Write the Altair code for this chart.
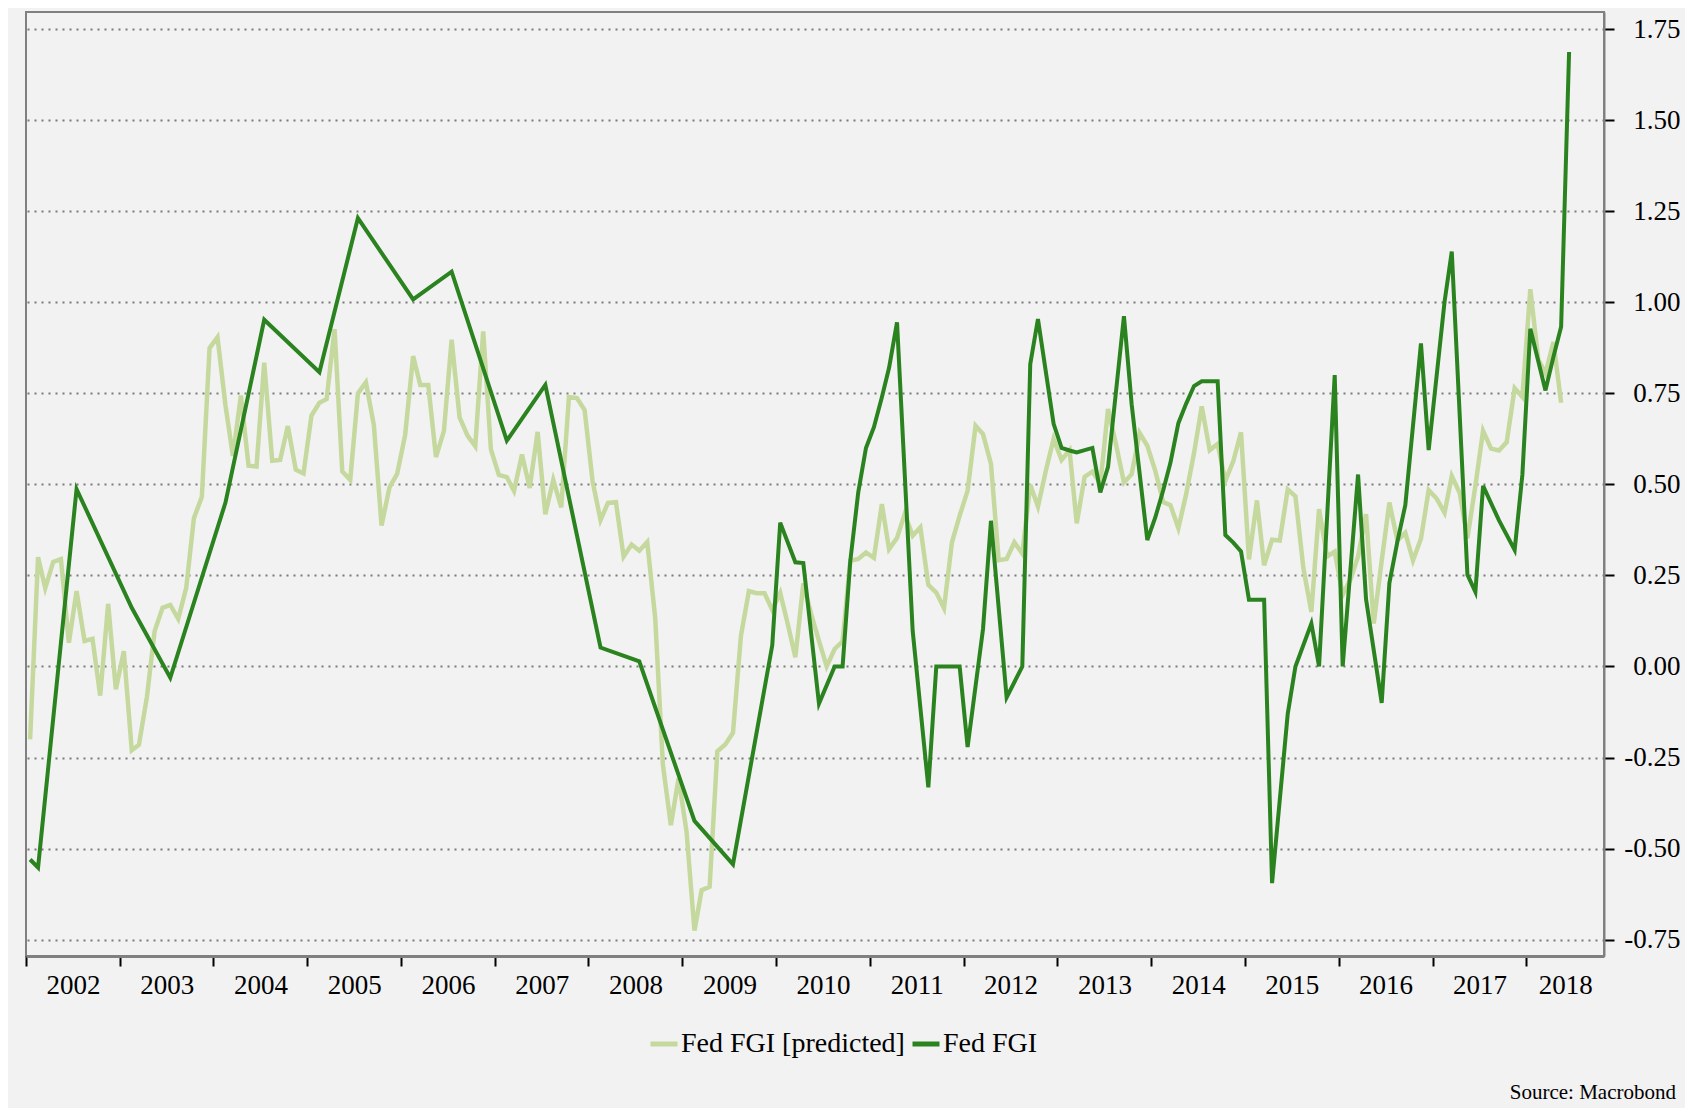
import altair as alt
import pandas as pd

# Fed FGI [predicted] - monthly, Jan 2002 .. May 2018
pred_values = [
    -0.20, 0.30, 0.215, 0.287, 0.295, 0.065, 0.207, 0.07, 0.076, -0.08, 0.172, -0.063,
    0.042, -0.23, -0.215, -0.084, 0.097, 0.161, 0.169, 0.131, 0.215, 0.407, 0.466, 0.874,
    0.904, 0.717, 0.578, 0.744, 0.551, 0.549, 0.834, 0.565, 0.567, 0.66, 0.54, 0.53,
    0.689, 0.724, 0.734, 0.926, 0.536, 0.512, 0.75, 0.78, 0.663, 0.387, 0.492, 0.529,
    0.636, 0.852, 0.773, 0.773, 0.575, 0.647, 0.897, 0.684, 0.634, 0.605, 0.92, 0.596,
    0.526, 0.52, 0.482, 0.582, 0.49, 0.644, 0.418, 0.512, 0.437, 0.74, 0.737, 0.704,
    0.509, 0.402, 0.449, 0.451, 0.302, 0.335, 0.318, 0.342, 0.133, -0.27, -0.436, -0.307,
    -0.453, -0.725, -0.614, -0.605, -0.233, -0.214, -0.182, 0.084, 0.207, 0.201, 0.201, 0.155,
    0.202, 0.112, 0.025, 0.228, 0.145, 0.07, 0.0, 0.048, 0.069, 0.29, 0.295, 0.313,
    0.298, 0.446, 0.322, 0.353, 0.419, 0.359, 0.382, 0.224, 0.203, 0.16, 0.341, 0.414,
    0.483, 0.661, 0.638, 0.556, 0.292, 0.295, 0.341, 0.31, 0.499, 0.439, 0.538, 0.625,
    0.567, 0.594, 0.393, 0.521, 0.535, 0.502, 0.707, 0.61, 0.505, 0.528, 0.641, 0.606,
    0.537, 0.451, 0.443, 0.38, 0.472, 0.586, 0.714, 0.594, 0.611, 0.51, 0.564, 0.643,
    0.294, 0.456, 0.278, 0.348, 0.346, 0.486, 0.467, 0.27, 0.15, 0.432, 0.302, 0.315,
    0.197, 0.24, 0.302, 0.418, 0.118, 0.29, 0.45, 0.346, 0.367, 0.291, 0.351, 0.484,
    0.461, 0.422, 0.523, 0.476, 0.352, 0.496, 0.647, 0.598, 0.593, 0.616, 0.764, 0.74,
    1.036, 0.843, 0.805, 0.891, 0.724,
]

# Fed FGI - observed months only (line joins the gaps)
fgi_months = [
    "2002-01", "2002-02", "2002-07", "2003-02", "2003-07", "2004-02", "2004-07",
    "2005-02", "2005-07", "2006-02", "2006-07", "2007-02", "2007-07", "2008-02",
    "2008-07", "2009-02", "2009-07", "2009-12", "2010-01", "2010-03", "2010-04",
    "2010-06", "2010-08", "2010-09", "2010-10", "2010-11", "2010-12", "2011-01",
    "2011-02", "2011-03", "2011-04", "2011-06", "2011-08", "2011-09", "2011-12",
    "2012-01", "2012-03", "2012-04", "2012-06", "2012-08", "2012-09", "2012-10",
    "2012-12", "2013-01", "2013-02", "2013-03", "2013-05", "2013-06", "2013-07",
    "2013-09", "2013-10", "2013-12", "2014-01", "2014-02", "2014-03", "2014-04",
    "2014-05", "2014-06", "2014-07", "2014-09", "2014-10", "2014-11", "2014-12",
    "2015-01", "2015-03", "2015-04", "2015-06", "2015-07", "2015-09", "2015-10",
    "2015-12", "2016-01", "2016-03", "2016-04", "2016-06", "2016-07", "2016-08",
    "2016-09", "2016-11", "2016-12", "2017-02", "2017-03", "2017-05", "2017-06",
    "2017-07", "2017-09", "2017-11", "2017-12", "2018-01", "2018-03", "2018-04",
    "2018-05", "2018-06",
]
fgi_values = [
    -0.53, -0.552, 0.487, 0.161, -0.031, 0.45, 0.952,
    0.808, 1.231, 1.008, 1.084, 0.62, 0.773, 0.052,
    0.014, -0.424, -0.543, 0.058, 0.395, 0.286, 0.284,
    -0.102, 0.0, 0.0, 0.29, 0.478, 0.60, 0.657,
    0.739, 0.82, 0.945, 0.098, -0.332, 0.0, 0.0,
    -0.221, 0.103, 0.40, -0.085, 0.0, 0.83, 0.954,
    0.666, 0.60, 0.593, 0.588, 0.60, 0.478, 0.548,
    0.962, 0.72, 0.347, 0.409, 0.484, 0.559, 0.668,
    0.721, 0.77, 0.783, 0.783, 0.361, 0.34, 0.316,
    0.183, 0.183, -0.595, -0.13, 0.0, 0.118, 0.0,
    0.80, 0.0, 0.527, 0.185, -0.10, 0.229, 0.342,
    0.443, 0.887, 0.594, 1.002, 1.139, 0.252, 0.205,
    0.496, 0.401, 0.32, 0.526, 0.927, 0.758, 0.85,
    0.933, 1.687,
]

year_ticks = list(range(2002, 2019))
y_ticks = [-0.75, -0.5, -0.25, 0.0, 0.25, 0.5, 0.75, 1.0, 1.25, 1.5, 1.75]

S_PRED = "Fed FGI [predicted]"
S_FGI = "Fed FGI"
LIGHT = "#c5d99e"
DARK = "#2a831f"
FONT = "Times New Roman, Liberation Serif, serif"

pred_dates = [f"{2002 + i // 12}-{i % 12 + 1:02d}-17" for i in range(len(pred_values))]
df_pred = pd.DataFrame({"date": pred_dates, "value": pred_values, "series": S_PRED})
df_fgi = pd.DataFrame({"date": [m + "-17" for m in fgi_months], "value": fgi_values, "series": S_FGI})

x_enc = alt.X(
    "date:T",
    scale=alt.Scale(domain=[alt.DateTime(year=2002, month=1, date=1),
                            alt.DateTime(year=2018, month=10, date=31)]),
    axis=alt.Axis(
        values=[alt.DateTime(year=y, month=1, date=1) for y in year_ticks],
        format="%Y", title=None, grid=False,
        labelOffset={"condition": {"test": "year(datum.value) >= 2018", "value": 39}, "value": 47},
        labelFlush=False, labelOverlap=False,
        tickSize=10, tickColor="black", tickWidth=2,
        domainColor="#808080", domainWidth=3,
        labelPadding=6, labelFontSize=27, labelFont=FONT, labelColor="black",
    ),
)
y_enc = alt.Y(
    "value:Q",
    scale=alt.Scale(domain=[-0.795, 1.797], nice=False, zero=False),
    axis=alt.Axis(
        orient="right", values=y_ticks, title=None,
        labelExpr="(datum.value < 0 ? '-' : '') + format(abs(datum.value), '.2f')",
        tickSize=10, tickColor="black", tickWidth=2,
        domainColor="#808080", domainWidth=2,
        grid=True, gridColor="#7a7a7a", gridDash=[2, 5], gridWidth=2,
        labelAlign="right", labelPadding=66,
        labelFontSize=27, labelFont=FONT, labelColor="black",
    ),
)
color_enc = alt.Color(
    "series:N",
    scale=alt.Scale(domain=[S_PRED, S_FGI], range=[LIGHT, DARK]),
    legend=alt.Legend(
        title=None, orient="none", legendX=622, legendY=1016, direction="horizontal",
        symbolType="stroke", symbolStrokeWidth=5, symbolSize=729,
        labelFontSize=28, labelFont=FONT, labelColor="black", labelLimit=0,
        columnPadding=-3, labelOffset=1, padding=0,
    ),
)

light = alt.Chart(df_pred).mark_line(strokeWidth=4.5).encode(x=x_enc, y=y_enc, color=color_enc)
dark = alt.Chart(df_fgi).mark_line(strokeWidth=4).encode(x=x_enc, y=y_enc, color=color_enc)

chart = alt.layer(light, dark).properties(
    width=1578, height=944,
    padding={"left": 13, "top": 4, "right": 5, "bottom": 5},
    title=alt.TitleParams(
        "Source: Macrobond", orient="bottom", anchor="end", fontSize=21,
        font=FONT, fontWeight="normal", color="black", offset=24, dx=-4,
    ),
).configure(background="#f2f2f2").configure_view(
    fill="#f2f2f2", stroke="#808080", strokeWidth=2
)

chart.save("out.html", embed_options={"renderer": "svg", "actions": False})
